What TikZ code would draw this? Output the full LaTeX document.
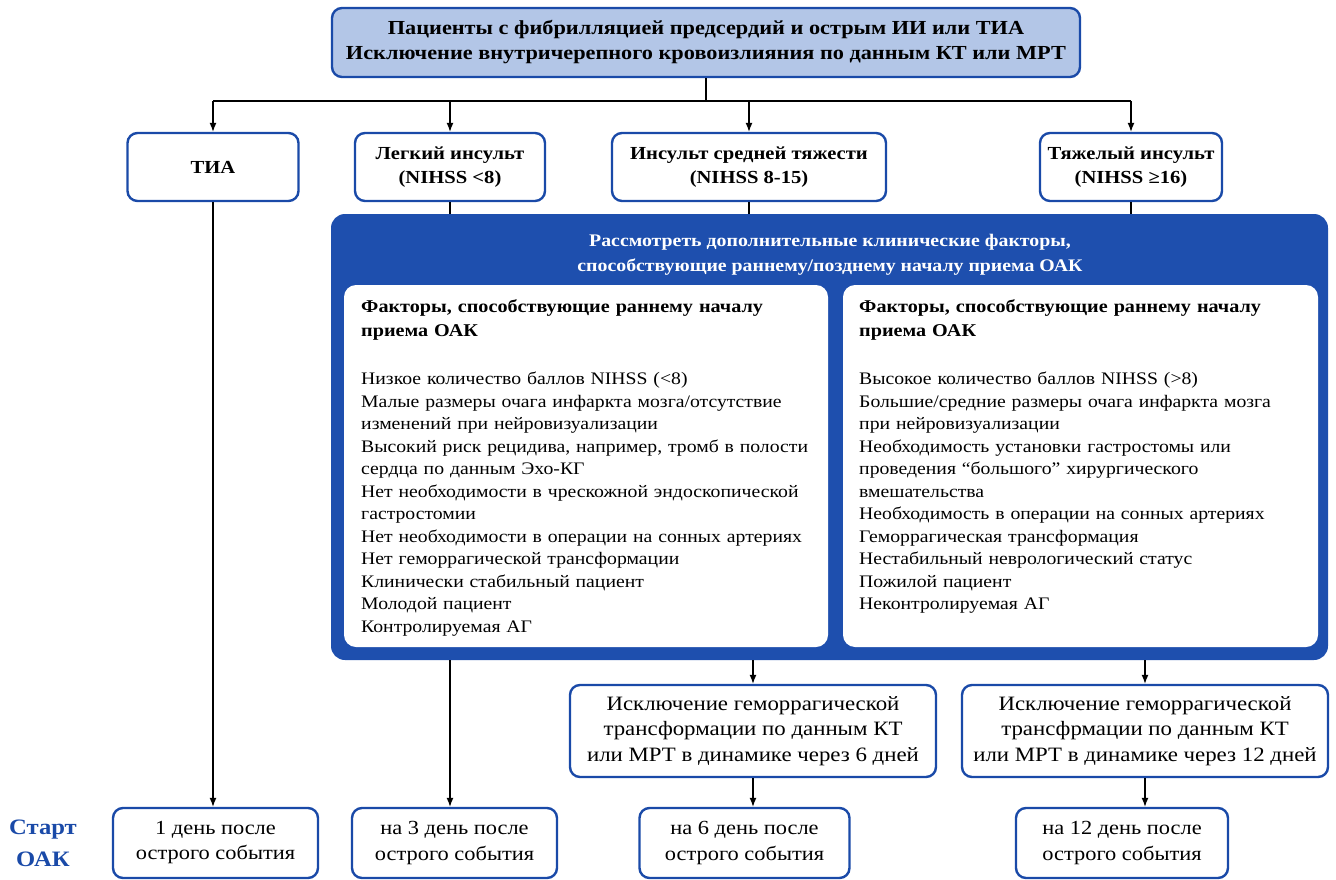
\documentclass[tikz,border=0pt]{standalone}
\usepackage{fontspec}
\setmainfont{Liberation Serif}[FakeStretch=1.12]
\usetikzlibrary{arrows.meta}
\definecolor{navy}{HTML}{1E4FAE}
\definecolor{edge}{HTML}{1A4AA8}
\definecolor{paleblue}{HTML}{B3C6E7}
\tikzset{
  box/.style={draw=edge, line width=2.4pt, rounded corners=10pt, fill=white,
    align=center, inner sep=0pt},
  catbox/.style={box, minimum height=68pt, font=\bfseries\fontsize{18.4}{24}\selectfont},
  daybox/.style={box, minimum height=70pt, font=\fontsize{20}{25}\selectfont},
  checkbox/.style={box, minimum width=366pt, minimum height=92pt, font=\fontsize{20.4}{25.5}\selectfont},
  whitepanel/.style={fill=white, rounded corners=12pt, minimum height=362pt, inner sep=0pt},
  arr/.style={-{Latex[length=9pt,width=7pt]}, line width=1.2pt, black},
  ln/.style={line width=1.2pt, black},
  head/.style={anchor=north west, align=left, inner sep=0pt, text width=470pt,
    font=\bfseries\fontsize{18}{24}\selectfont},
  items/.style={anchor=north west, align=left, inner sep=0pt, text width=470pt,
    font=\fontsize{17.6}{22.5}\selectfont},
}
\begin{document}
\begin{tikzpicture}[x=1pt,y=-1pt]
\useasboundingbox (0,0) rectangle (1336,880);

% top box
\node[box, fill=paleblue, minimum width=748pt, minimum height=69pt,
  font=\bfseries\fontsize{19.9}{25}\selectfont] (top) at (706,42.5)
  {Пациенты с фибрилляцией предсердий и острым ИИ или ТИА\\
   Исключение внутричерепного кровоизлияния по данным КТ или МРТ};

% stroke severity boxes
\node[catbox, minimum width=171pt] (tia) at (213,167) {ТИА};
\node[catbox, minimum width=190pt] (mild) at (450,167) {Легкий инсульт\\(NIHSS <8)};
\node[catbox, minimum width=274pt] (mod) at (749,167) {Инсульт средней тяжести\\(NIHSS 8-15)};
\node[catbox, minimum width=182pt] (sev) at (1131,167) {Тяжелый инсульт\\(NIHSS ≥16)};

% bus from top box
\coordinate (bus) at (0,101);
\draw[ln] (top.south) -- (top.south |- bus);
\draw[ln] (tia.north |- bus) -- (sev.north |- bus);
\foreach \n in {tia,mild,mod,sev} \draw[arr] (\n.north |- bus) -- (\n.north);

% clinical factors panel
\node[fill=navy, rounded corners=14pt, minimum width=997pt, minimum height=446pt,
  inner sep=0pt] (panel) at (829.5,437) {};
\node[text=white, align=center, inner sep=0pt,
  font=\bfseries\fontsize{17.7}{25}\selectfont] (ptitle) at (830,255)
  {Рассмотреть дополнительные клинические факторы,\\
   способствующие раннему/позднему началу приема ОАК};
\node[whitepanel, minimum width=484pt] (lpan) at (586,466) {};
\node[whitepanel, minimum width=475pt] (rpan) at (1080.5,466) {};

\node[head] (lhead) at (361,299) {Факторы, способствующие раннему началу\\приема ОАК};
\node[items] (litems) at (361,372) {Низкое количество баллов NIHSS (<8)\\
Малые размеры очага инфаркта мозга/отсутствие\\
изменений при нейровизуализации\\
Высокий риск рецидива, например, тромб в полости\\
сердца по данным Эхо-КГ\\
Нет необходимости в чрескожной эндоскопической\\
гастростомии\\
Нет необходимости в операции на сонных артериях\\
Нет геморрагической трансформации\\
Клинически стабильный пациент\\
Молодой пациент\\
Контролируемая АГ};

\node[head] (rhead) at (859,299) {Факторы, способствующие раннему началу\\приема ОАК};
\node[items] (ritems) at (859,372) {Высокое количество баллов NIHSS (>8)\\
Большие/средние размеры очага инфаркта мозга\\
при нейровизуализации\\
Необходимость установки гастростомы или\\
проведения “большого” хирургического\\
вмешательства\\
Необходимость в операции на сонных артериях\\
Геморрагическая трансформация\\
Нестабильный неврологический статус\\
Пожилой пациент\\
Неконтролируемая АГ};

\draw[ln] (mild.south) -- (mild.south |- panel.north);
\draw[ln] (mod.south) -- (mod.south |- panel.north);
\draw[ln] (sev.south) -- (sev.south |- panel.north);

% imaging re-check boxes
\node[checkbox] (chk6) at (753,731) {Исключение геморрагической\\
  трансформации по данным КТ\\или МРТ в динамике через 6 дней};
\node[checkbox] (chk12) at (1145,731) {Исключение геморрагической\\
  трансфрмации по данным КТ\\или МРТ в динамике через 12 дней};
\draw[arr] (chk6.north |- panel.south) -- (chk6.north);
\draw[arr] (chk12.north |- panel.south) -- (chk12.north);

% start-of-therapy boxes
\node[daybox, minimum width=205pt] (d1) at (215.5,843) {1 день после\\острого события};
\node[daybox, minimum width=205pt] (d3) at (454.5,843) {на 3 день после\\острого события};
\node[daybox, minimum width=210pt] (d6) at (744.5,843) {на 6 день после\\острого события};
\node[daybox, minimum width=212pt] (d12) at (1122,843) {на 12 день после\\острого события};

\draw[arr] (tia.south) -- (tia.south |- d1.north);
\draw[arr] (mild.south |- panel.south) -- (mild.south |- d3.north);
\draw[arr] (chk6.south) -- (chk6.south |- d6.north);
\draw[arr] (chk12.south) -- (chk12.south |- d12.north);

\node[text=edge, align=center, inner sep=0pt,
  font=\bfseries\fontsize{22}{32}\selectfont] (start) at (43,843) {Старт\\ОАК};
\end{tikzpicture}
\end{document}
